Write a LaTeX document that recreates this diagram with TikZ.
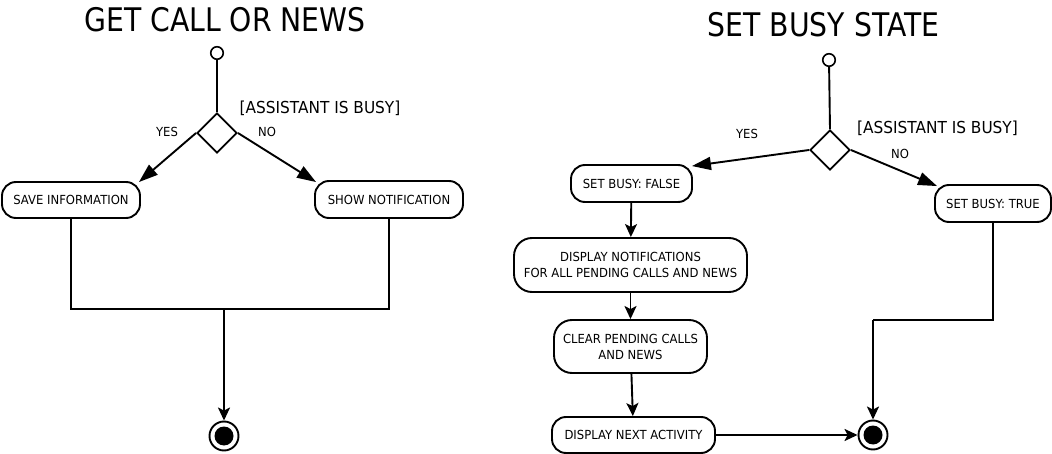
\documentclass[tikz,border=0pt]{standalone}
\usepackage{fontspec}
\setmainfont{DejaVu Sans}
\newfontfamily\titlefont[FakeStretch=0.87]{DejaVu Sans}
\newfontfamily\bodyfont[FakeStretch=0.93]{DejaVu Sans}
\usetikzlibrary{shapes.geometric,arrows.meta,calc}
\tikzset{
 act/.style={draw, line width=1.9pt, rounded corners=14pt, inner sep=0pt, align=center, font=\bodyfont\fontsize{12.5}{16}\selectfont},
 acttall/.style={act, rounded corners=18pt},
 startst/.style={circle, draw, line width=1.6pt, minimum size=12.5pt, inner sep=0pt, fill=white},
 endst/.style={circle, draw, line width=1.9pt, minimum size=29pt, inner sep=0pt, path picture={\fill (path picture bounding box.center) circle (9.5pt);}},
 decision/.style={diamond, draw, line width=1.9pt, minimum width=40pt, minimum height=40pt, inner sep=0pt, aspect=1},
 flow/.style={line width=1.9pt},
 bigarrow/.style={flow, -{Triangle[length=19pt,width=13pt]}},
 arrow/.style={flow, -{Stealth[length=13pt,width=12pt,inset=3pt]}},
 title/.style={font=\titlefont\fontsize{32.5}{36}\selectfont, inner sep=0pt, anchor=base},
 guard/.style={font=\bodyfont\fontsize{16.5}{19}\selectfont, inner sep=0pt, anchor=base},
 small/.style={font=\bodyfont\fontsize{12.5}{15}\selectfont, inner sep=0pt, anchor=base},
}
\begin{document}
\begin{tikzpicture}[x=1pt,y=-1pt]
\useasboundingbox[fill=white] (0,0) rectangle (1052,454);
% ---------- left diagram ----------
\node[title] (t1) at (225,32) {GET CALL OR NEWS};
\node[startst] (s1) at (217,53) {};
\node[decision] (d1) at (217,133) {};
\node[guard] (g1) at (320,114) {[ASSISTANT IS BUSY]};
\node[small] (y1) at (167,137) {YES};
\node[small] (n1) at (267,137) {NO};
\node[act, minimum width=138pt, minimum height=36pt] (save) at (71,200) {SAVE INFORMATION};
\node[act, minimum width=148pt, minimum height=37pt] (show) at (389,199.5) {SHOW NOTIFICATION};
\coordinate (j1) at (224,309);
\node[endst] (e1) at (224,436) {};
\draw[flow] (s1) -- (d1.north);
\draw[bigarrow] (d1.west) -- ($(save.north east)+(-2,1)$);
\draw[bigarrow] (d1.east) -- ($(show.north west)+(2,2)$);
\draw[flow] (save.south) |- (j1) -| (show.south);
\draw[arrow] (j1) -- (e1);
% ---------- right diagram ----------
\node[title] (t2) at (823.5,37) {SET BUSY STATE};
\node[startst] (s2) at (829,60) {};
\node[decision] (d2) at (830,150) {};
\node[guard] (g2) at (937.5,134) {[ASSISTANT IS BUSY]};
\node[small] (y2) at (747,139) {YES};
\node[small] (n2) at (900,159) {NO};
\node[act, minimum width=121pt, minimum height=37pt] (sbf) at (631.5,183.5) {SET BUSY: FALSE};
\node[act, minimum width=116pt, minimum height=37pt] (sbt) at (993,203.5) {SET BUSY: TRUE};
\node[acttall, minimum width=233pt, minimum height=54pt] (dnot) at (630.5,265) {DISPLAY NOTIFICATIONS\\FOR ALL PENDING CALLS AND NEWS};
\node[acttall, minimum width=153pt, minimum height=53pt] (clr) at (630.5,346.5) {CLEAR PENDING CALLS\\AND NEWS};
\node[act, minimum width=163pt, minimum height=36pt] (dna) at (633.5,435) {DISPLAY NEXT ACTIVITY};
\coordinate (j2) at (873,320);
\node[endst] (e2) at (873,435) {};
\draw[flow] (s2) -- (d2.north);
\draw[bigarrow] (d2.west) -- ($(sbf.north east)+(-1,2)$);
\draw[bigarrow] (d2.east) -- ($(sbt.north west)+(3,2)$);
\draw[arrow] (sbf) -- (dnot);
\draw[arrow] (dnot) -- (clr);
\draw[arrow] (clr) -- (dna);
\draw[arrow] (dna) -- (e2);
\draw[flow] (sbt.south) |- (j2);
\draw[arrow] (j2) -- (e2);
\end{tikzpicture}
\end{document}
